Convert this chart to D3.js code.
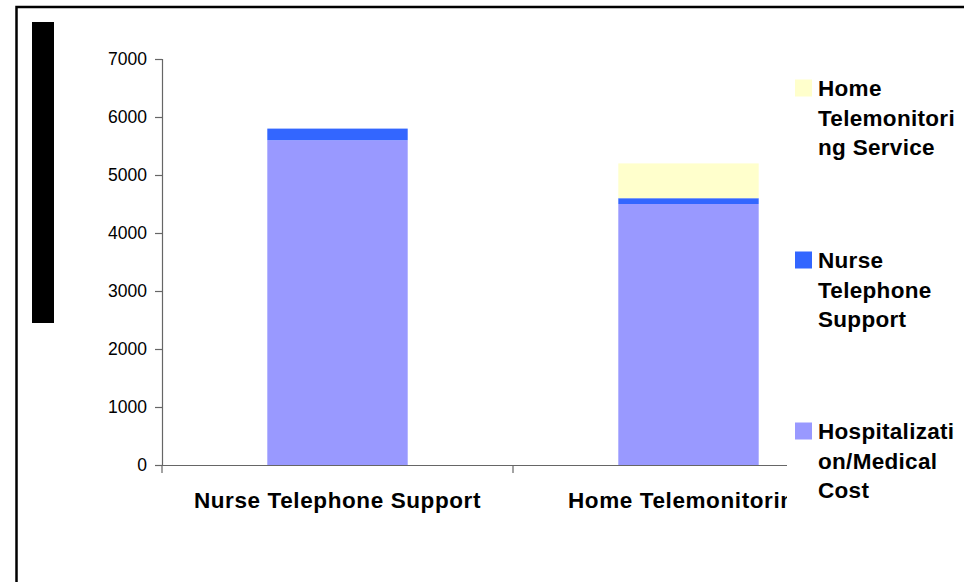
<!DOCTYPE html>
<html>
<head>
<meta charset="utf-8">
<script src="https://cdn.jsdelivr.net/npm/d3@7"></script>
<style>
  body { margin: 0; background: #fff; }
  svg { display: block; font-family: "Liberation Sans", Arial, sans-serif; }
</style>
</head>
<body>
<div id="chart"></div>
<script>
// data
var categories = ["Nurse Telephone Support", "Home Telemonitoring"];
var seriesNames = ["Hospitalization/Medical Cost", "Nurse Telephone Support", "Home Telemonitoring Service"];
var hospitalCost = [5600, 4500];
var nurseSupport = [200, 100];
var homeService = [0, 600];
var yTicks = [0, 1000, 2000, 3000, 4000, 5000, 6000, 7000];
var legendLines = [
  ["Home", "Telemonitori", "ng Service"],
  ["Nurse", "Telephone", "Support"],
  ["Hospitalizati", "on/Medical", "Cost"]
];
var colors = ["#9999ff", "#3366ff", "#ffffcc"];

var width = 964, height = 582;

var svg = d3.select("#chart").append("svg")
  .attr("width", width)
  .attr("height", height);

/* frame */
svg.append("rect")
  .attr("x", 16.5).attr("y", 7)
  .attr("width", 1000).attr("height", 1000)
  .attr("fill", "none")
  .attr("stroke", "#000")
  .attr("stroke-width", 2.5);

/* blacked-out axis title */
svg.append("rect")
  .attr("x", 32).attr("y", 22)
  .attr("width", 22).attr("height", 301)
  .attr("fill", "#000");

/* scales */
var x = d3.scaleBand()
  .domain(categories)
  .range([162, 864]);

var y = d3.scaleLinear()
  .domain([0, 7000])
  .range([465, 59]);

var table = categories.map(function(c, i) {
  return { cat: c, hosp: hospitalCost[i], nurse: nurseSupport[i], home: homeService[i] };
});
var stack = d3.stack().keys(["hosp", "nurse", "home"]);
var layers = stack(table);

var barW = x.bandwidth() * 0.4;

svg.append("g").selectAll("g")
  .data(layers).enter()
  .append("g")
  .attr("fill", function(d, i) { return colors[i]; })
  .selectAll("rect")
  .data(function(d) { return d; }).enter()
  .append("rect")
  .attr("x", function(d) { return x(d.data.cat) + (x.bandwidth() - barW) / 2; })
  .attr("y", function(d) { return y(d[1]); })
  .attr("width", barW)
  .attr("height", function(d) { return y(d[0]) - y(d[1]); });

/* y axis */
var yAxis = d3.axisLeft(y).tickValues(yTicks).tickSize(7).tickPadding(8).tickFormat(d3.format("d"));
var gy = svg.append("g")
  .attr("transform", "translate(162,0)")
  .call(yAxis);
gy.select(".domain").attr("stroke", "#666").attr("stroke-width", 1.2);
gy.selectAll(".tick line").attr("stroke", "#666").attr("stroke-width", 1.2);
gy.selectAll(".tick text")
  .attr("fill", "#000")
  .style("font-size", "17.5px");

/* x axis */
var xAxis = d3.axisBottom(x).tickSize(0).tickPadding(27);
var gx = svg.append("g")
  .attr("transform", "translate(0,465)")
  .call(xAxis);
gx.select(".domain").attr("stroke", "#666").attr("stroke-width", 1.2);
gx.selectAll(".tick text")
  .attr("fill", "#000")
  .style("font-size", "22.5px")
  .style("font-weight", "bold")
  .style("letter-spacing", "0.6px");

var edges = categories.map(function(c) { return x(c); }).concat([x.range()[1]]);
gx.selectAll(".edge")
  .data(edges).enter()
  .append("line")
  .attr("x1", function(d) { return d; })
  .attr("x2", function(d) { return d; })
  .attr("y1", 0).attr("y2", 8)
  .attr("stroke", "#666")
  .attr("stroke-width", 1.2);

/* legend */
var legend = svg.append("g");
legend.append("rect")
  .attr("x", 787).attr("y", 55)
  .attr("width", 175).attr("height", 470)
  .attr("fill", "#fff");

var legendTop = [88, 260, 431];
var legendColor = [colors[2], colors[1], colors[0]];

legendLines.forEach(function(lines, i) {
  legend.append("rect")
    .attr("x", 795).attr("y", legendTop[i] - 8.5)
    .attr("width", 17).attr("height", 17)
    .attr("fill", legendColor[i]);
  var t = legend.append("text")
    .attr("x", 818)
    .attr("y", legendTop[i] + 8)
    .style("font-size", "22.5px")
    .style("font-weight", "bold")
    .style("letter-spacing", "0.3px");
  lines.forEach(function(l, j) {
    t.append("tspan")
      .attr("x", 818)
      .attr("dy", j === 0 ? 0 : 29.5)
      .text(l);
  });
});
</script>
</body>
</html>
